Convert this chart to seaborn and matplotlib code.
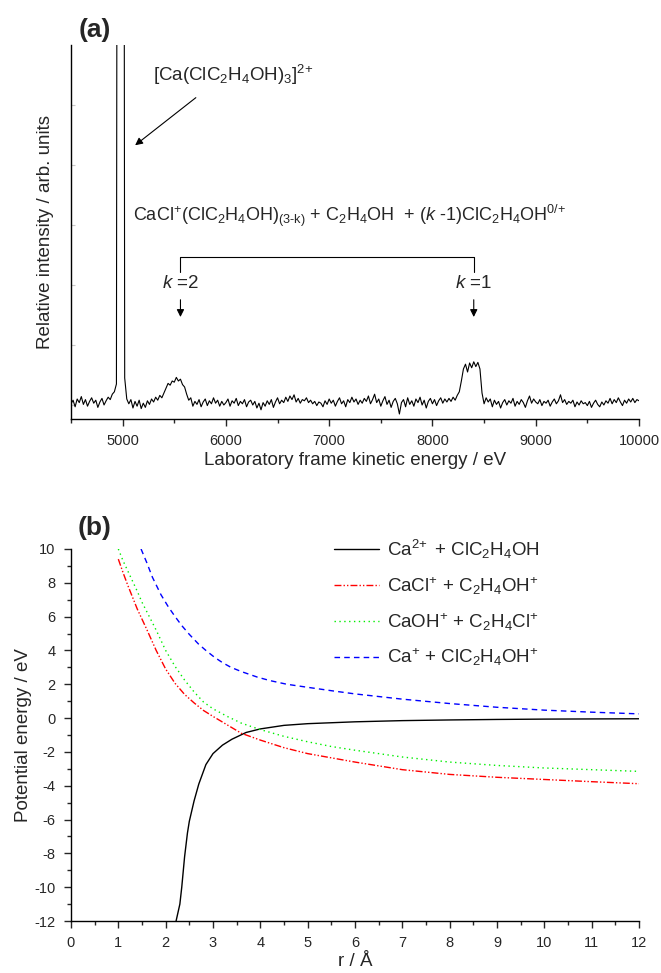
import numpy as np
import pandas as pd
import matplotlib
matplotlib.use("Agg")
import matplotlib.pyplot as plt
from matplotlib.ticker import MultipleLocator
import seaborn as sns

sns.set_style("ticks")
plt.rcParams["font.family"] = ["Liberation Sans", "DejaVu Sans"]
plt.rcParams["mathtext.fontset"] = "custom"
plt.rcParams["mathtext.rm"] = "Liberation Sans"
plt.rcParams["mathtext.it"] = "Liberation Sans:italic"
plt.rcParams["mathtext.default"] = "regular"
plt.rcParams["axes.unicode_minus"] = False

# ---- panel (a): kinetic energy spectrum (20 eV steps)
energy = np.arange(4500, 10001, 20)
intensity = [
    # 4500 - 4920
    0.02, 0.08, -0.03, 0.10, 0.04, 0.14, 0.01, 0.09, -0.02, 0.06,
    0.12, 0.03, 0.08, -0.04, 0.05, 0.11, 0.00, 0.07, 0.13, 0.09,
    0.18, 0.22,
    # 4940 - 5020 parent dication peak (off scale)
    0.35, 30.0, 30.0, 30.0, 0.45,
    # 5040 - 5980 (k = 2 peak)
    0.10, 0.02, 0.09, -0.05, 0.06, -0.02, 0.08, -0.06, 0.03, -0.04,
    0.07, 0.01, 0.10, 0.05, 0.13, 0.08, 0.16, 0.12, 0.20, 0.28,
    0.36, 0.33, 0.40, 0.38, 0.46, 0.40, 0.43, 0.34, 0.30, 0.18,
    0.08, 0.12, -0.02, 0.06, 0.01, 0.09, -0.03, 0.05, 0.10, -0.01,
    0.07, 0.02, 0.12, 0.03, 0.08, -0.02, 0.06, 0.00,
    # 6000 - 8260
    0.04, 0.10, -0.02, 0.07, 0.03, 0.11, -0.01, 0.06, 0.02, 0.09,
    -0.03, 0.05, 0.08, 0.00, 0.06, -0.05, 0.03, -0.08, 0.04, -0.02,
    0.07, 0.01, 0.09, -0.04, 0.05, 0.12, 0.02, 0.08, 0.04, 0.13,
    0.06, 0.15, 0.09, 0.17, 0.05, 0.11, 0.03, 0.09, 0.07, 0.12,
    0.04, 0.08, 0.02, 0.06, -0.01, 0.05, 0.03, -0.03, 0.07, 0.01,
    0.10, 0.03, 0.08, -0.02, 0.06, 0.12, 0.02, 0.07, -0.03, 0.09,
    0.04, 0.13, 0.05, 0.10, 0.01, 0.08, 0.03, 0.11, 0.06, 0.15,
    0.02, 0.09, 0.18, 0.04, 0.10, -0.02, 0.07, 0.14, 0.01, 0.08,
    -0.04, 0.06, 0.11, 0.02, -0.15, 0.04, 0.09, -0.03, 0.12, 0.01,
    0.07, -0.02, 0.10, 0.04, 0.13, 0.00, 0.08, -0.05, 0.06, 0.11,
    0.02, 0.09, -0.01, 0.07, 0.12, 0.03, 0.10, 0.05, 0.11, 0.06,
    0.13, 0.08, 0.16, 0.22,
    # 8280 - 8480 (k = 1 plateau)
    0.40, 0.60, 0.68, 0.55, 0.70, 0.62, 0.72, 0.64, 0.71, 0.60, 0.20,
    # 8500 - 10000
    0.02, 0.12, 0.05, 0.10, -0.03, 0.08, 0.01, 0.06, -0.05, 0.04,
    0.09, 0.00, 0.07, 0.03, 0.11, -0.02, 0.06, 0.01, 0.09, 0.04,
    -0.04, 0.07, 0.15, 0.03, 0.10, 0.05, 0.02, 0.09, -0.01, 0.06,
    0.03, 0.08, -0.02, 0.05, 0.10, 0.02, 0.07, 0.17, 0.04, 0.09,
    0.01, 0.06, 0.03, 0.08, -0.03, 0.05, 0.00, 0.07, 0.02, 0.04,
    -0.01, 0.06, -0.04, 0.03, 0.08, 0.01, -0.03, 0.05, 0.00, 0.07,
    0.03, 0.11, 0.02, 0.09, 0.04, 0.12, 0.05, -0.01, 0.08, 0.03,
    0.10, 0.05, 0.11, 0.04, 0.09, 0.07,
]
k2_energy = 5560
k1_energy = 8400

# ---- panel (b): potential energy curves
r_ca2 = [2.22, 2.30, 2.34, 2.40, 2.46, 2.50, 2.60, 2.70, 2.85, 3.0, 3.2, 3.4,
         3.7, 4.0, 4.5, 5.0, 6.0, 7.0, 8.0, 9.0, 10.0, 11.0, 12.0]
v_ca2 = [-12.0, -11.0, -10.0, -8.2, -6.8, -6.1, -4.9, -3.9, -2.75, -2.1, -1.6, -1.25,
         -0.85, -0.64, -0.43, -0.33, -0.22, -0.15, -0.11, -0.08, -0.06, -0.05, -0.04]

r_cacl = [1.0, 1.1, 1.2, 1.3, 1.4, 1.5, 1.6, 1.8, 2.0, 2.2, 2.4, 2.6, 2.8, 3.0,
          3.3, 3.6, 4.0, 4.5, 5.0, 5.5, 6.0, 7.0, 8.0, 9.0, 10.0, 11.0, 12.0]
v_cacl = [9.4, 8.6, 7.85, 7.15, 6.45, 5.85, 5.25, 4.0, 2.9, 2.05, 1.4, 0.9, 0.45, 0.1,
          -0.4, -0.9, -1.3, -1.75, -2.1, -2.35, -2.6, -3.05, -3.33, -3.5, -3.63, -3.76, -3.88]

r_caoh = [1.0, 1.1, 1.2, 1.3, 1.4, 1.5, 1.6, 1.8, 2.0, 2.2, 2.4, 2.6, 2.8, 3.0,
          3.3, 3.6, 4.0, 4.5, 5.0, 5.5, 6.0, 7.0, 8.0, 9.0, 10.0, 11.0, 12.0]
v_caoh = [10.0, 9.3, 8.7, 8.1, 7.5, 6.85, 6.3, 5.2, 4.0, 3.05, 2.25, 1.55, 0.95, 0.55,
          0.1, -0.3, -0.68, -1.08, -1.4, -1.68, -1.9, -2.3, -2.6, -2.8, -2.95, -3.05, -3.15]

r_ca1 = [1.48, 1.6, 1.72, 1.9, 2.06, 2.2, 2.34, 2.5, 2.69, 2.85, 3.03, 3.2, 3.38,
         3.6, 3.94, 4.2, 4.56, 5.0, 5.5, 6.0, 7.0, 8.0, 9.0, 10.0, 11.0, 12.0]
v_ca1 = [10.0, 9.2, 8.33, 7.3, 6.56, 6.0, 5.47, 4.95, 4.39, 4.0, 3.6, 3.28, 3.0,
         2.75, 2.42, 2.22, 2.0, 1.82, 1.62, 1.43, 1.12, 0.86, 0.64, 0.47, 0.35, 0.25]

labels = [
    "Ca$^{2\\!+}$ + ClC$_2$H$_4$OH",
    "CaCl$^{+}$ + C$_2$H$_4$OH$^{+}$",
    "CaOH$^{+}$ + C$_2$H$_4$Cl$^{+}$",
    "Ca$^{+}$ + ClC$_2$H$_4$OH$^{+}$",
]
colors = ["#000000", "#ff0000", "#00ee00", "#0000ff"]
dashes = ["", (5, 1.5, 1, 1.5, 1, 1.5), (1, 2.5), (4, 3)]

pes = pd.concat([
    pd.DataFrame({"r": r, "V": v, "state": lab})
    for r, v, lab in zip([r_ca2, r_cacl, r_caoh, r_ca1],
                         [v_ca2, v_cacl, v_caoh, v_ca1], labels)
])

fig = plt.figure(figsize=(6.61, 9.73), dpi=100)
ax1 = fig.add_axes([0.1074, 0.5694, 0.8593, 0.3844])
ax2 = fig.add_axes([0.1074, 0.0534, 0.8593, 0.3824])

# panel (a)
sns.lineplot(x=energy, y=intensity, ax=ax1, color="k", lw=0.8, estimator=None)
ax1.set_xlim(4500, 10000)
ax1.set_ylim(-0.233, 6.0)
ax1.xaxis.set_major_locator(MultipleLocator(1000))
ax1.xaxis.set_minor_locator(MultipleLocator(500))
ax1.set_yticks([0, 1, 2, 3, 4, 5])
ax1.tick_params(axis="x", which="major", length=5, width=1, labelsize=10.5, pad=6)
ax1.tick_params(axis="x", which="minor", length=3, width=1)
ax1.tick_params(axis="y", direction="in", length=3, width=0.8, color="#c8c8c8",
                labelleft=False)
ax1.set_xlabel("Laboratory frame kinetic energy / eV", fontsize=13.5, labelpad=3)
ax1.set_ylabel("Relative intensity / arb. units", fontsize=13.5)
ax1.yaxis.set_label_coords(-0.03, 0.5)

ax1.text(5290, 5.5, "[Ca(ClC$_2$H$_4$OH)$_3$]$^{2\\!+}$", fontsize=13.5, va="center")
ax1.annotate("", xy=(5100, 4.3), xytext=(5730, 5.15),
             arrowprops=dict(arrowstyle="-|>", lw=0.8, color="k", mutation_scale=11))
ax1.text(5100, 3.15,
         "CaCl$^{+}$(ClC$_2$H$_4$OH)$_{\\text{(3-k)}}$ + C$_2$H$_4$OH  + "
         "($\\mathit{k}$ -1)ClC$_2$H$_4$OH$^{0/\\!+}$",
         fontsize=13, va="center")
ax1.plot([k2_energy, k2_energy, k1_energy, k1_energy], [2.22, 2.47, 2.47, 2.22],
         color="k", lw=0.8)
for e, lab in [(k2_energy, "$\\mathit{k}$ =2"), (k1_energy, "$\\mathit{k}$ =1")]:
    ax1.text(e, 2.02, lab, fontsize=13.5, ha="center", va="center")
    ax1.annotate("", xy=(e, 1.42), xytext=(e, 1.8),
                 arrowprops=dict(arrowstyle="-|>", lw=0.8, color="k", mutation_scale=11))

# panel (b)
sns.lineplot(data=pes, x="r", y="V", hue="state", style="state",
             palette=dict(zip(labels, colors)), dashes=dict(zip(labels, dashes)),
             sort=False, estimator=None, lw=1.0, ax=ax2)
ax2.set_xlim(0, 12)
ax2.set_ylim(-12, 10)
ax2.xaxis.set_major_locator(MultipleLocator(1))
ax2.xaxis.set_minor_locator(MultipleLocator(0.5))
ax2.yaxis.set_major_locator(MultipleLocator(2))
ax2.yaxis.set_minor_locator(MultipleLocator(1))
ax2.tick_params(which="major", length=5, width=1, labelsize=10.5, pad=6)
ax2.tick_params(which="minor", length=3, width=1)
ax2.set_xlabel("r / Å", fontsize=13.5, labelpad=2)
ax2.set_ylabel("Potential energy / eV", fontsize=13.5, labelpad=2)

handles, labs = ax2.get_legend_handles_labels()
ax2.legend(handles, labs, loc="upper left", bbox_to_anchor=(0.447, 1.055),
           frameon=False, fontsize=13.5, handlelength=2.4, labelspacing=0.75,
           borderpad=0, handletextpad=0.4)

for ax in (ax1, ax2):
    sns.despine(ax=ax)
    for s in ("left", "bottom"):
        ax.spines[s].set_linewidth(1.0)
        ax.spines[s].set_color("k")

fig.text(95 / 661, 1 - 30 / 973, "(a)", fontsize=19, fontweight="bold",
         ha="center", va="center")
fig.text(95 / 661, 1 - 528 / 973, "(b)", fontsize=19, fontweight="bold",
         ha="center", va="center")

fig.savefig("out.png", dpi=100)
